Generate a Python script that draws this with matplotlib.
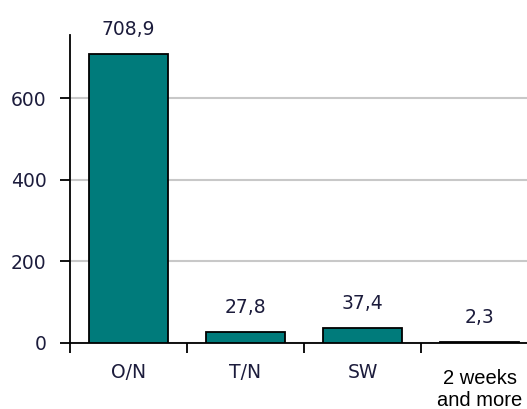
import matplotlib.pyplot as plt
import numpy as np

categories = ["O/N", "T/N", "SW", "2 weeks\nand more"]
values = [708.9, 27.8, 37.4, 2.3]
value_labels = ["708,9", "27,8", "37,4", "2,3"]
yticks = [0, 200, 400, 600]

txt = '#1c1c3c'
fig = plt.figure(figsize=(5.27, 4.09), dpi=100)
ax = fig.add_axes([70/527, 66/409, 457/527, 308/409])

x = np.arange(len(categories))
ax.bar(x, values, width=0.67, color='#007b7b', edgecolor='black', linewidth=1.3, zorder=3)

# value labels above the bars
for xi, v, lab in zip(x, values, value_labels):
    ax.annotate(lab, (xi, v), xytext=(0, 17.5), textcoords='offset points',
                ha='center', va='center', fontsize=13.5, color=txt)

ax.set_xlim(-0.5, 3.5 - 11/117)
ax.set_ylim(0, 755)
ax.set_yticks(yticks)
ax.set_yticklabels([str(t) for t in yticks], fontsize=13.5, color=txt)
ax.yaxis.grid(True, color='#c8c8c8', linewidth=1.5, zorder=0)

ax.set_xticks(x)
ax.set_xticklabels([])
ax.set_xticks([-0.5, 0.5, 1.5, 2.5], minor=True)
ax.tick_params(axis='x', which='major', length=0)
ax.tick_params(axis='x', which='minor', length=7, width=1.3, direction='out')
ax.tick_params(axis='y', length=7, width=1.3, direction='out', pad=10)

# category names under the axis
for xi, c in zip(x, categories):
    if '\n' in c:
        ax.annotate(c, (xi, 0), xytext=(0, -19), textcoords='offset points',
                    ha='center', va='top', fontsize=14.5, family='Liberation Sans',
                    color='black', linespacing=1.2)
    else:
        ax.annotate(c, (xi, 0), xytext=(0, -21), textcoords='offset points',
                    ha='center', va='center', fontsize=13.5, color=txt)

for s in ['top', 'right']:
    ax.spines[s].set_visible(False)
for s in ['left', 'bottom']:
    ax.spines[s].set_linewidth(1.3)

fig.savefig('out.png', dpi=100)
